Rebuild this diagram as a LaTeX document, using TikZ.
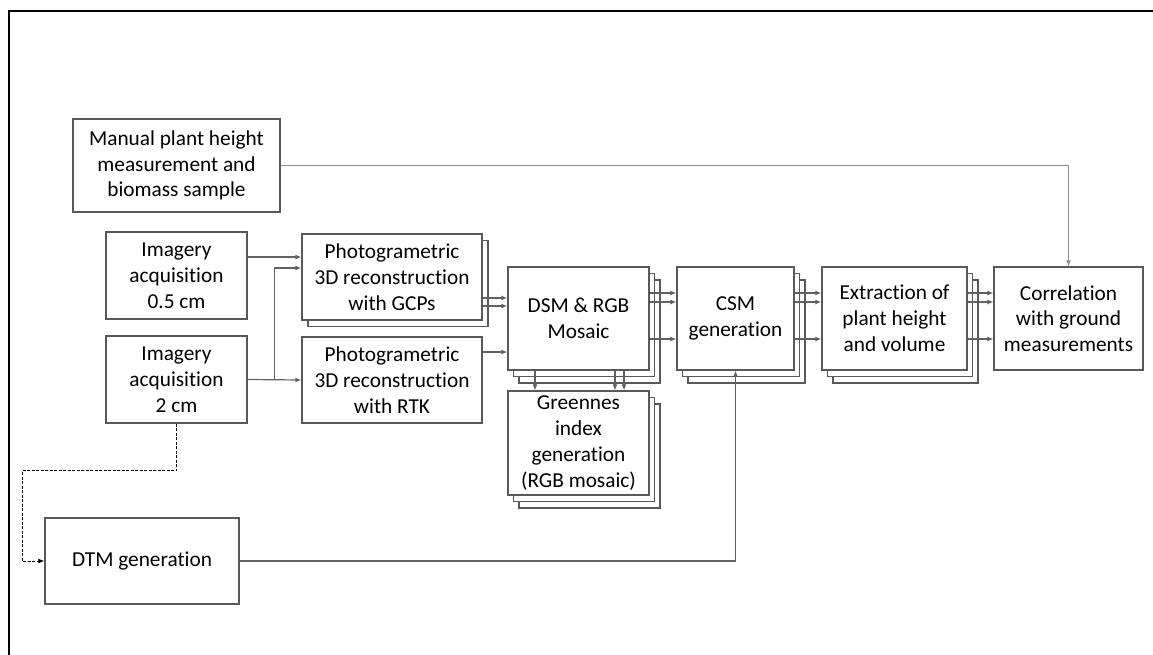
\documentclass[tikz,border=0pt]{standalone}
\usepackage{fontspec}
\setmainfont{Carlito}[Ligatures={NoCommon}]
\usetikzlibrary{arrows.meta,shadows}

\definecolor{boxcolor}{rgb}{0.350000, 0.350000, 0.350000}
\definecolor{linecolor}{rgb}{0.380000, 0.380000, 0.380000}
\definecolor{thincolor}{rgb}{0.560000, 0.560000, 0.560000}

\tikzset{
  stepbox/.style={draw=boxcolor, line width=1.3pt, fill=white, inner sep=0pt,
    align=center, font=\fontsize{21.3}{25.8}\selectfont},
  onecopy/.style={copy shadow={shadow xshift=6pt, shadow yshift=-6.5pt,
    draw=boxcolor, line width=1.3pt}},
  twocopy/.style={copy shadow={shadow xshift=11pt, shadow yshift=-13pt,
    draw=boxcolor, line width=1.3pt},
    copy shadow={shadow xshift=5.5pt, shadow yshift=-6.5pt,
    draw=boxcolor, line width=1.3pt}},
  arr/.style={draw=linecolor, line width=1.2pt, -{Latex[length=6pt,width=5pt]}},
  dasharr/.style={draw=black, line width=1pt, dash pattern=on 3pt off 1.5pt,
    -{Latex[length=6pt,width=5pt]}}
}

\begin{document}
\begin{tikzpicture}[x=1pt, y=-1pt]
\useasboundingbox (0,0) rectangle (1153,655);
% frame
\draw[line width=2.2pt] (9,655) -- (9,11) -- (1153,11);

\node[stepbox, minimum width=207pt, minimum height=93pt] (man) at (176.5,165.5)
  {Manual plant height\\measurement and\\biomass sample};
\node[stepbox, minimum width=141pt, minimum height=87pt] (img1) at (176.5,275.5)
  {Imagery\\acquisition\\0.5 cm};
\node[stepbox, minimum width=141pt, minimum height=87pt] (img2) at (176.5,379.5)
  {Imagery\\acquisition\\2 cm};
\node[stepbox, onecopy, minimum width=180pt, minimum height=86pt] (gcp) at (392,277)
  {Photogrametric\\3D reconstruction\\with GCPs};
\node[stepbox, minimum width=180pt, minimum height=86pt] (rtk) at (392,380)
  {Photogrametric\\3D reconstruction\\with RTK};
\node[stepbox, twocopy, minimum width=141pt, minimum height=103pt] (dsm) at (578.5,318.5)
  {DSM \& RGB\\Mosaic};
\node[stepbox, twocopy, minimum width=141pt, minimum height=104pt] (grn) at (578.5,443)
  {Greennes\\index\\generation\\(RGB mosaic)};
\node[stepbox, twocopy, minimum width=117pt, minimum height=103pt] (csm) at (735.5,318.5)
  {CSM\\generation};
\node[stepbox, twocopy, minimum width=145pt, minimum height=103pt] (ext) at (894.5,318.5)
  {Extraction of\\plant height\\and volume};
\node[stepbox, minimum width=149pt, minimum height=103pt] (cor) at (1068.5,318.5)
  {Correlation\\with ground\\measurements};
\node[stepbox, minimum width=194pt, minimum height=86pt] (dtm) at (142,561)
  {DTM generation};

% connectors
\draw[arr, draw=thincolor, line width=1pt] (man.east) -| (cor.north);
\draw[arr] ([yshift=18.5pt]img1.east) -- ([yshift=20pt]gcp.west);
\draw[arr] (img2.east) -- (rtk.west);
\draw[arr] (img2.east) -- ++(27,0) |- ([yshift=9pt]gcp.west);
\draw[arr] ([yshift=-21pt]gcp.east) -- ([yshift=20.5pt]dsm.west);
\draw[arr] ([yshift=-29pt]gcp.east) -- ([yshift=12.5pt]dsm.west);
\draw[arr] ([yshift=28pt]rtk.east) -- ([yshift=-33.5pt]dsm.west);
\foreach \s in {25.5,16.5,-20.5}{
  \draw[arr] ([yshift=\s pt]dsm.east) -- ([yshift=\s pt]csm.west);
  \draw[arr] ([yshift=\s pt]csm.east) -- ([yshift=\s pt]ext.west);
  \draw[arr] ([yshift=\s pt]ext.east) -- ([yshift=\s pt]cor.west);
}
\foreach \s in {-43.5,36.5,45.5}
  \draw[arr] ([xshift=\s pt]dsm.south) -- ([xshift=\s pt]grn.north);
\draw[arr] (dtm.east) -| (csm.south);
\draw[dasharr] (img2.south) -- ++(0,47) -| ([xshift=-22pt]dtm.west) -- (dtm.west);
\end{tikzpicture}
\end{document}
